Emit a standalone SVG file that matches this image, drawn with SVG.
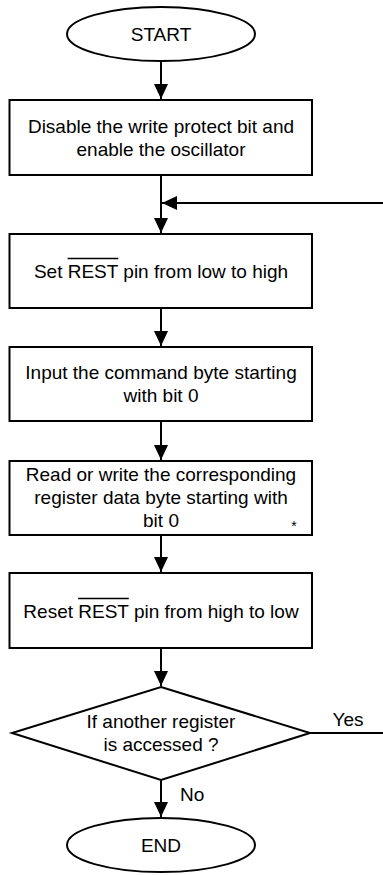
<svg xmlns="http://www.w3.org/2000/svg" width="383" height="875" viewBox="0 0 383 875">
<defs>
<style>
.s{fill:#fff;stroke:#000;stroke-width:2}
.c{fill:none;stroke:#000;stroke-width:2}
.t{font-family:"Liberation Sans",Arial,sans-serif;font-size:19px;fill:#000;text-anchor:middle}
.o{stroke:#000;stroke-width:1.3}
</style>
<marker id="ah" markerUnits="userSpaceOnUse" markerWidth="16" markerHeight="15" refX="15" refY="7" orient="auto">
<path d="M0,0 L15,7 L0,14 z" fill="#000"/>
</marker>
</defs>
<rect width="383" height="875" fill="#fff"/>
<g id="connectors">
<line class="c" x1="161" y1="61" x2="161" y2="99" marker-end="url(#ah)"/>
<line class="c" x1="161" y1="175" x2="161" y2="233" marker-end="url(#ah)"/>
<line class="c" x1="383" y1="203" x2="162" y2="203" marker-end="url(#ah)"/>
<line class="c" x1="161" y1="308" x2="161" y2="346" marker-end="url(#ah)"/>
<line class="c" x1="161" y1="421" x2="161" y2="460" marker-end="url(#ah)"/>
<line class="c" x1="161" y1="535" x2="161" y2="572" marker-end="url(#ah)"/>
<line class="c" x1="161" y1="648" x2="161" y2="686" marker-end="url(#ah)"/>
<line class="c" x1="310" y1="733" x2="383" y2="733"/>
<text class="t" x="348" y="726">Yes</text>
<line class="c" x1="161" y1="780" x2="161" y2="817" marker-end="url(#ah)"/>
<text class="t" x="180" y="801" style="text-anchor:start">No</text>
</g>
<g id="start">
<ellipse class="s" cx="161" cy="34" rx="94" ry="27"/>
<text class="t" x="161" y="41">START</text>
</g>
<g id="disable">
<rect class="s" x="9.5" y="100" width="302.5" height="75"/>
<text class="t" x="161" y="132.5">Disable the write protect bit and</text>
<text class="t" x="161" y="155.5">enable the oscillator</text>
</g>
<g id="set">
<rect class="s" x="9.5" y="234" width="302.5" height="74"/>
<text class="t" x="161" y="277.5">Set REST pin from low to high</text>
<line class="o" x1="67.6" y1="258.5" x2="118.3" y2="258.5"/>
</g>
<g id="input">
<rect class="s" x="9.5" y="347" width="302.5" height="74"/>
<text class="t" x="161" y="379">Input the command byte starting</text>
<text class="t" x="161" y="402">with bit 0</text>
</g>
<g id="readwrite">
<rect class="s" x="9.5" y="461" width="302.5" height="74"/>
<text class="t" x="161" y="481">Read or write the corresponding</text>
<text class="t" x="161" y="504">register data byte starting with</text>
<text class="t" x="161" y="527">bit 0</text>
<text class="t" x="294" y="531" style="font-size:14px">*</text>
</g>
<g id="reset">
<rect class="s" x="9.5" y="573" width="302.5" height="75"/>
<text class="t" x="161" y="617.5">Reset REST pin from high to low</text>
<line class="o" x1="78.1" y1="598.5" x2="128.8" y2="598.5"/>
</g>
<g id="decision">
<polygon class="s" points="161,687 310,733 161,780 12,733"/>
<text class="t" x="161" y="728">If another register</text>
<text class="t" x="161" y="751">is accessed ?</text>
</g>
<g id="end">
<ellipse class="s" cx="161" cy="845" rx="94" ry="27"/>
<text class="t" x="161" y="852">END</text>
</g>
</svg>
